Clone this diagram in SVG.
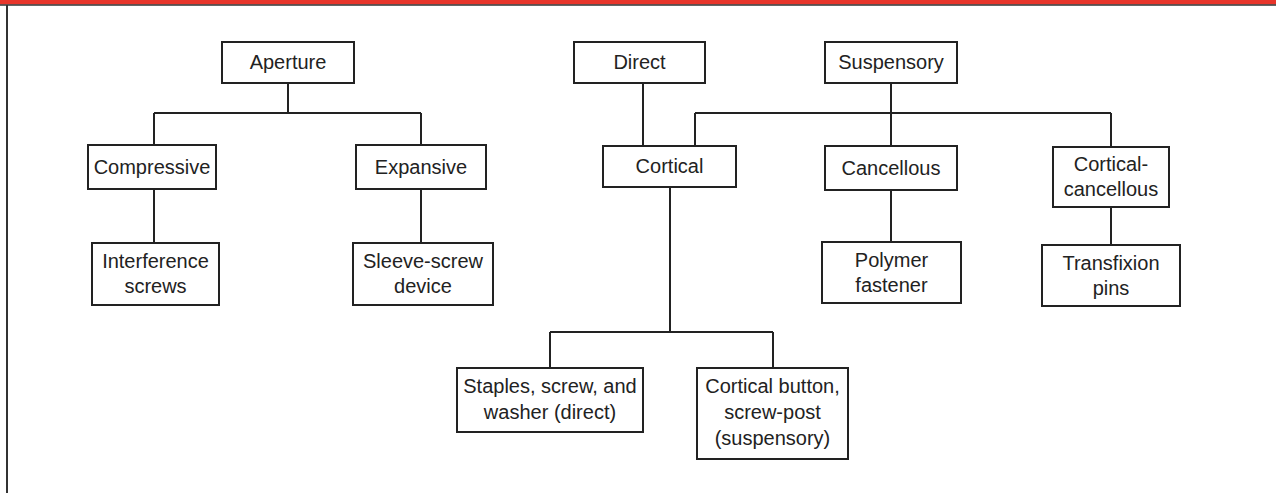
<svg xmlns="http://www.w3.org/2000/svg" width="1276" height="493" viewBox="0 0 1276 493">
<style>
.box{fill:#fff;stroke:#222;stroke-width:2}
.ln{fill:none;stroke:#222;stroke-width:2}
text{font-family:"Liberation Sans",Arial,sans-serif;font-size:20px;fill:#222;text-anchor:middle}
</style>
<rect x="0" y="0" width="1276" height="493" fill="#fff"/>
<rect x="0" y="0" width="1276" height="4.5" fill="#e8352a"/>
<line x1="0" y1="5" x2="1276" y2="5" stroke="#333" stroke-width="1.5"/>
<line x1="7" y1="5" x2="7" y2="493" stroke="#333" stroke-width="2"/>
<g id="connectors" class="ln">
<path d="M288 83V113M154 113H421M154 113V145M421 113V145"/>
<path d="M154 189V243M421 189V243"/>
<path d="M643 83V146"/>
<path d="M891 83V146M695 113H1111M695 113V146M1111 113V147"/>
<path d="M891 190V242M1111 207V245"/>
<path d="M670 187V332M550 332H773M550 332V368M773 332V368"/>
</g>
<g id="aperture"><rect class="box" x="222" y="42" width="132" height="41"/><text x="288" y="69">Aperture</text></g>
<g id="direct"><rect class="box" x="574" y="42" width="131" height="41"/><text x="639.5" y="69">Direct</text></g>
<g id="suspensory"><rect class="box" x="825" y="42" width="132" height="41"/><text x="891" y="69">Suspensory</text></g>
<g id="compressive"><rect class="box" x="88" y="145" width="128" height="44"/><text x="152" y="174">Compressive</text></g>
<g id="expansive"><rect class="box" x="356" y="145" width="130" height="44"/><text x="421" y="174">Expansive</text></g>
<g id="cortical"><rect class="box" x="603" y="146" width="133" height="41"/><text x="669.5" y="173">Cortical</text></g>
<g id="cancellous"><rect class="box" x="825" y="146" width="132" height="44"/><text x="891" y="175">Cancellous</text></g>
<g id="cortical-cancellous"><rect class="box" x="1053" y="147" width="116" height="60"/><text x="1111" y="171">Cortical-</text><text x="1111" y="196">cancellous</text></g>
<g id="interference"><rect class="box" x="92" y="243" width="127" height="62"/><text x="155.5" y="268">Interference</text><text x="155.5" y="293">screws</text></g>
<g id="sleeve"><rect class="box" x="353" y="243" width="140" height="62"/><text x="423" y="268">Sleeve-screw</text><text x="423" y="293">device</text></g>
<g id="polymer"><rect class="box" x="822" y="242" width="139" height="61"/><text x="891.5" y="267">Polymer</text><text x="891.5" y="292">fastener</text></g>
<g id="transfixion"><rect class="box" x="1042" y="245" width="138" height="61"/><text x="1111" y="270">Transfixion</text><text x="1111" y="295">pins</text></g>
<g id="staples"><rect class="box" x="457" y="368" width="186" height="64"/><text x="550" y="393">Staples, screw, and</text><text x="550" y="419">washer (direct)</text></g>
<g id="button"><rect class="box" x="697" y="368" width="151" height="91"/><text x="772.5" y="393">Cortical button,</text><text x="772.5" y="419">screw-post</text><text x="772.5" y="445">(suspensory)</text></g>
</svg>
